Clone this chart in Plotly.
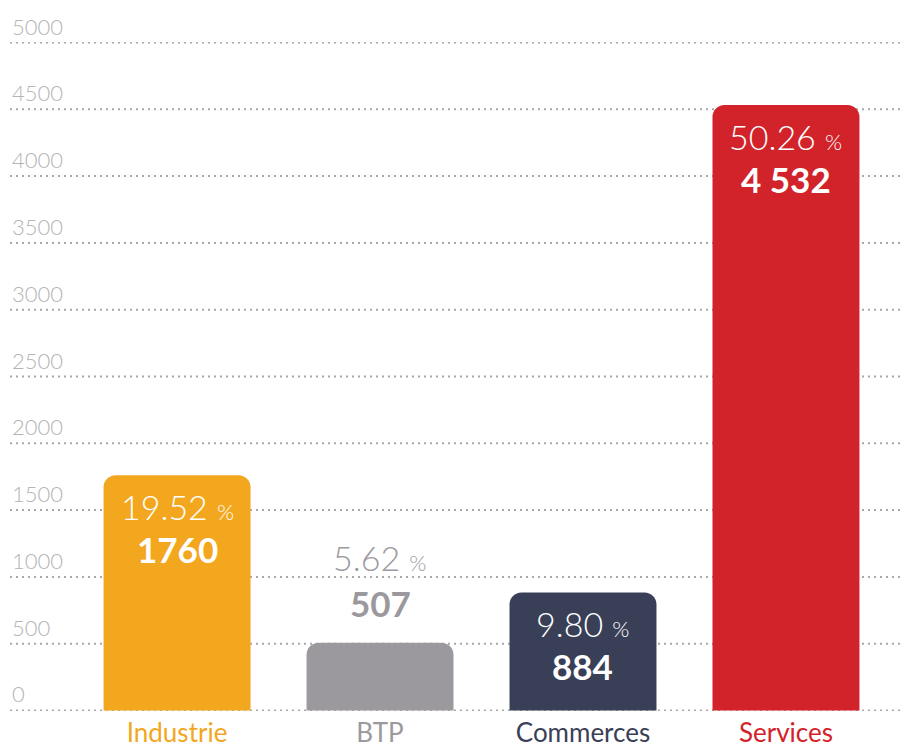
import plotly.graph_objects as go

categories = ["Industrie", "BTP", "Commerces", "Services"]
values = [1760, 507, 884, 4532]
value_labels = ["1760", "507", "884", "4 532"]
percents = ["19.52", "5.62", "9.80", "50.26"]
colors = ["#F2A71E", "#9B999E", "#3A3F58", "#D2232A"]
y_ticks = [0, 500, 1000, 1500, 2000, 2500, 3000, 3500, 4000, 4500, 5000]

FONT = "Lato"

fig = go.Figure()
fig.add_trace(go.Bar(
    x=categories, y=values,
    marker=dict(color=colors, cornerradius=12, line=dict(width=0)),
    width=0.724, hoverinfo="skip",
))

# labels on the bars (BTP is too short, so its label sits above it)
for cat, val, vl, pct, col in zip(categories, values, value_labels, percents, colors):
    inside = cat != "BTP"
    txt_col = "white" if inside else col
    pct_shift = -31 if inside else 85
    val_shift = -74 if inside else 40
    fig.add_annotation(
        x=cat, y=val, yshift=pct_shift, showarrow=False,
        text=pct + " <span style='font-size:22px'>%</span>",
        font=dict(family=FONT, size=34, color=txt_col, weight=300),
    )
    fig.add_annotation(
        x=cat, y=val, yshift=val_shift, showarrow=False,
        text=vl,
        font=dict(family=FONT, size=35, color=txt_col, weight="bold"),
    )

# dotted grid drawn as shapes (plotly drops grid lines at the range edges)
# y tick labels sit on top of them, at the left edge
for t in y_ticks:
    fig.add_shape(
        type="line", xref="paper", x0=0, x1=1, y0=t, y1=t, layer="below",
        line=dict(color="#A8A8A8", width=2, dash="2px,4px"),
    )
    fig.add_annotation(
        x=0, xref="paper", xanchor="left", y=t, yanchor="bottom", yshift=1,
        showarrow=False, text=str(t),
        font=dict(family=FONT, size=22, color="#B4B4B4", weight=300),
    )

# the page body has an 8px margin, so the margins are offset by it
fig.update_layout(
    width=911, height=748,
    margin=dict(l=2, r=8, t=34, b=45),
    plot_bgcolor="white", paper_bgcolor="white",
    showlegend=False,
    xaxis=dict(
        type="category", range=[-0.823, 3.616],
        tickvals=categories,
        ticktext=[f"<span style='color:{c}'>{n}</span>" for n, c in zip(categories, colors)],
        tickfont=dict(family=FONT, size=26),
        ticklabelstandoff=4,
        showgrid=False, zeroline=False, showline=False, ticks="",
    ),
    yaxis=dict(
        range=[-4, 5004], showticklabels=False,
        showgrid=False, zeroline=False, showline=False,
    ),
)

fig.write_html("out.html")
